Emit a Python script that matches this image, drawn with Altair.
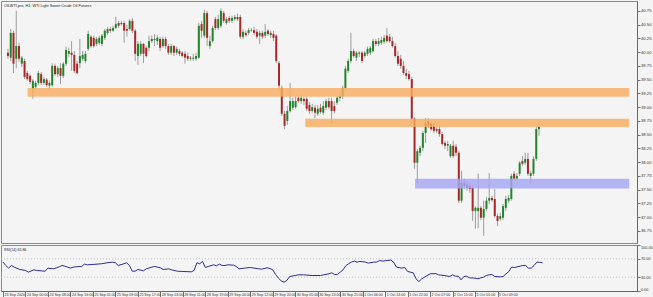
import altair as alt
import pandas as pd

TITLE = "OILWTI.pro, H1:  WTI Light Sweet Crude Oil Futures"
RSI_LABEL = "RSI(14) 65.86"

opens = [39.99, 39.90, 40.35, 39.88, 40.11, 39.79, 39.84, 39.62, 39.57, 39.33,
         39.37, 39.44, 39.60, 39.44, 39.50, 39.39, 39.40, 39.75, 39.60, 39.71,
         39.57, 39.79, 39.97, 39.99, 39.95, 39.79, 39.80, 39.88, 39.84, 40.06,
         40.28, 40.26, 40.15, 40.17, 40.15, 40.26, 40.35, 40.42, 40.39, 40.44,
         40.53, 40.51, 40.53, 40.42, 40.42, 40.57, 40.39, 39.93, 39.97, 40.15,
         40.08, 40.08, 40.20, 40.22, 40.20, 40.24, 40.11, 40.24, 40.11, 39.99,
         40.11, 39.99, 40.02, 39.99, 39.97, 39.93, 39.88, 39.88, 39.88, 39.90,
         40.51, 40.30, 40.71, 40.11, 40.20, 40.60, 40.44, 40.48, 40.71, 40.53,
         40.62, 40.57, 40.60, 40.64, 40.64, 40.28, 40.35, 40.35, 40.39, 40.40,
         40.37, 40.30, 40.35, 40.30, 40.39, 40.31, 40.33, 40.30, 39.80, 39.35,
         38.88, 38.75, 38.93, 38.99, 39.00, 39.17, 39.11, 39.15, 39.15, 39.04,
         38.93, 38.99, 38.88, 38.99, 38.90, 38.99, 39.11, 39.11, 39.02, 39.08,
         39.17, 39.20, 39.35, 39.66, 39.84, 40.02, 39.90, 39.99, 39.99, 39.93,
         39.97, 39.99, 40.02, 40.20, 40.15, 40.17, 40.19, 40.30, 40.28, 40.20,
         40.11, 39.93, 39.88, 39.75, 39.62, 39.60, 39.51, 38.79, 37.99, 38.17,
         38.26, 38.53, 38.75, 38.70, 38.66, 38.60, 38.60, 38.51, 38.35, 38.30,
         38.11, 38.30, 38.28, 38.17, 37.30, 37.62, 37.59, 37.57, 37.53, 37.11,
         37.11, 37.17, 36.99, 37.15, 37.30, 37.35, 37.33, 37.02, 36.97, 36.99,
         37.17, 37.30, 37.33, 37.79, 37.70, 37.79, 38.02, 37.99, 38.06, 37.75,
         37.79, 38.06, 38.60]

closes = [39.93, 40.35, 39.79, 40.11, 39.88, 39.90, 39.55, 39.51, 39.46, 39.48,
          39.44, 39.62, 39.44, 39.51, 39.40, 39.44, 39.75, 39.60, 39.71, 39.57,
          39.79, 40.04, 40.02, 39.95, 39.66, 39.62, 39.93, 39.95, 39.97, 40.33,
          40.11, 40.11, 40.24, 40.26, 40.30, 40.39, 40.42, 40.39, 40.44, 40.51,
          40.48, 40.53, 40.39, 40.39, 40.57, 40.39, 39.97, 40.15, 40.15, 39.97,
          39.93, 40.20, 40.24, 40.24, 40.26, 40.08, 40.24, 40.11, 39.99, 40.11,
          39.99, 40.06, 39.97, 39.93, 39.90, 39.88, 39.90, 39.90, 39.93, 40.48,
          40.39, 40.71, 40.26, 40.20, 40.44, 40.44, 40.60, 40.75, 40.57, 40.60,
          40.57, 40.62, 40.64, 40.60, 40.28, 40.37, 40.31, 40.40, 40.40, 40.35,
          40.28, 40.35, 40.28, 40.37, 40.33, 40.35, 40.26, 39.84, 39.39, 38.88,
          38.66, 38.93, 39.11, 39.11, 39.11, 39.11, 39.17, 39.11, 38.97, 38.93,
          39.00, 38.90, 38.97, 38.91, 39.02, 39.11, 39.00, 38.93, 38.93, 39.17,
          39.20, 39.35, 39.70, 39.84, 40.02, 39.93, 39.99, 39.97, 39.84, 39.99,
          40.06, 40.08, 40.20, 40.15, 40.20, 40.22, 40.26, 40.20, 40.20, 40.11,
          39.93, 39.79, 39.75, 39.62, 39.57, 39.51, 38.79, 37.99, 38.20, 38.26,
          38.53, 38.71, 38.66, 38.60, 38.57, 38.57, 38.51, 38.33, 38.30, 38.33,
          38.30, 38.11, 38.17, 37.30, 37.62, 37.57, 37.53, 37.51, 37.11, 37.17,
          37.17, 36.99, 37.15, 37.30, 37.35, 37.31, 37.02, 36.93, 37.02, 37.20,
          37.33, 37.35, 37.75, 37.70, 37.75, 37.99, 37.97, 38.06, 37.79, 37.80,
          38.06, 38.60, 38.64]

highs = [40.06, 40.42, 40.39, 40.75, 40.17, 39.93, 39.88, 39.66, 39.60, 39.51,
         39.48, 39.66, 39.64, 39.55, 39.53, 39.48, 39.80, 39.79, 39.75, 39.80,
         39.82, 40.10, 40.08, 40.20, 40.02, 39.84, 40.24, 40.02, 40.02, 40.39,
         40.31, 40.30, 40.28, 40.30, 40.33, 40.42, 40.46, 40.46, 40.48, 40.64,
         40.57, 40.57, 40.57, 40.50, 40.60, 40.62, 40.42, 40.20, 40.20, 40.17,
         40.11, 40.30, 40.30, 40.33, 40.31, 40.28, 40.28, 40.28, 40.15, 40.15,
         40.13, 40.10, 40.06, 40.02, 40.02, 39.99, 39.93, 39.97, 39.99, 40.53,
         40.57, 40.77, 40.75, 40.30, 40.48, 40.64, 40.68, 40.80, 40.75, 40.64,
         40.66, 40.66, 40.68, 40.70, 40.68, 40.42, 40.39, 40.44, 40.44, 40.46,
         40.42, 40.39, 40.39, 40.51, 40.42, 40.39, 40.39, 40.33, 39.84, 39.39,
         38.93, 39.02, 39.44, 39.17, 39.19, 39.20, 39.22, 39.19, 39.19, 39.09,
         39.06, 39.04, 39.04, 39.06, 39.11, 39.15, 39.17, 39.17, 39.11, 39.20,
         39.24, 39.39, 39.75, 39.88, 40.35, 40.06, 40.02, 40.02, 40.02, 40.02,
         40.10, 40.11, 40.24, 40.24, 40.26, 40.28, 40.31, 40.44, 40.33, 40.28,
         40.17, 40.02, 39.95, 39.84, 39.70, 39.66, 39.55, 38.82, 38.24, 38.30,
         38.57, 38.80, 38.80, 38.73, 38.70, 38.64, 38.66, 38.55, 38.39, 38.39,
         38.33, 38.39, 38.33, 38.20, 37.84, 37.70, 37.66, 37.62, 37.59, 37.20,
         37.79, 37.20, 37.30, 37.37, 37.80, 37.39, 37.51, 37.06, 37.08, 37.24,
         37.39, 37.40, 37.79, 37.84, 37.80, 38.02, 38.11, 38.17, 38.17, 37.84,
         38.11, 38.64, 38.70]

lows = [39.88, 39.84, 39.62, 39.71, 39.82, 39.73, 39.51, 39.48, 39.42, 39.15,
        39.31, 39.40, 39.40, 39.40, 39.37, 39.31, 39.37, 39.57, 39.55, 39.42,
        39.53, 39.75, 39.91, 39.66, 39.62, 39.59, 39.71, 39.84, 39.80, 40.02,
        40.08, 40.08, 40.11, 40.13, 40.11, 40.22, 40.31, 40.35, 40.37, 40.42,
        40.44, 40.48, 40.17, 40.28, 40.39, 40.35, 39.84, 39.77, 39.93, 39.80,
        39.90, 40.02, 40.17, 40.11, 40.13, 40.02, 40.08, 40.06, 39.95, 39.95,
        39.93, 39.95, 39.93, 39.90, 39.79, 39.84, 39.84, 39.84, 39.84, 39.88,
        40.26, 40.26, 40.11, 40.06, 40.17, 40.40, 40.40, 40.44, 40.53, 40.50,
        40.53, 40.53, 40.57, 40.57, 40.24, 40.24, 40.28, 40.31, 40.37, 40.31,
        40.24, 40.15, 40.24, 40.26, 40.30, 40.26, 40.20, 39.80, 39.31, 38.84,
        38.60, 38.68, 38.90, 38.95, 38.97, 39.08, 39.06, 39.04, 38.93, 38.88,
        38.90, 38.80, 38.84, 38.88, 38.86, 38.95, 38.97, 38.70, 38.88, 39.04,
        39.11, 39.15, 39.31, 39.62, 39.80, 39.90, 39.84, 39.91, 39.80, 39.90,
        39.93, 39.95, 39.99, 40.11, 40.11, 40.13, 40.15, 40.17, 40.17, 40.08,
        39.90, 39.75, 39.70, 39.59, 39.51, 39.48, 38.75, 37.88, 37.62, 38.11,
        38.20, 38.35, 38.62, 38.57, 38.53, 38.53, 38.46, 38.30, 38.24, 38.20,
        38.08, 38.08, 38.11, 37.26, 37.26, 37.51, 37.48, 37.44, 36.93, 36.79,
        36.80, 36.95, 36.66, 37.11, 37.24, 37.28, 36.99, 36.84, 36.93, 36.95,
        37.11, 37.26, 37.30, 37.66, 37.66, 37.75, 37.93, 37.95, 37.75, 37.60,
        37.75, 38.02, 38.48]

rsi_bar = [0, 1, 2, 3, 4, 6, 8, 9, 11, 12,
           15, 16, 18, 19, 20, 21, 22, 24, 25, 27,
           28, 29, 30, 32, 35, 37, 39, 40, 41, 43,
           44, 45, 46, 47, 48, 50, 51, 53, 54, 56,
           57, 59, 60, 62, 64, 67, 68, 69, 70, 71,
           72, 73, 75, 76, 77, 78, 79, 80, 82, 83,
           84, 86, 88, 91, 92, 94, 95, 96, 97, 98,
           99, 100, 101, 102, 104, 105, 107, 110, 113, 114,
           116, 117, 118, 119, 120, 121, 122, 123, 124, 125,
           126, 127, 129, 130, 132, 133, 134, 135, 136, 138,
           139, 140, 142, 143, 144, 146, 147, 148, 149, 150,
           152, 154, 155, 157, 159, 160, 161, 162, 163, 164,
           165, 166, 168, 169, 170, 171, 172, 173, 174, 175,
           177, 178, 179, 180, 181, 182, 184, 185, 186, 187,
           188, 189, 190, 191, 192]
rsi_val = [62.8, 55.5, 49.7, 55.5, 51.9, 46.8, 44.6, 41.0, 46.0, 44.6,
           43.1, 49.7, 48.2, 50.4, 52.6, 55.5, 54.0, 49.7, 51.9, 53.3,
           53.3, 58.4, 56.9, 57.7, 59.2, 61.3, 62.8, 61.3, 55.5, 59.2,
           61.3, 55.5, 43.1, 43.1, 46.8, 43.8, 48.2, 51.9, 53.3, 50.4,
           46.8, 48.2, 46.0, 43.1, 42.4, 41.7, 44.6, 61.3, 59.2, 64.3,
           51.1, 53.3, 56.9, 54.8, 58.4, 55.5, 55.5, 56.9, 56.2, 53.3,
           48.2, 49.7, 51.1, 48.2, 47.5, 50.4, 49.0, 46.0, 36.0, 28.0,
           22.0, 19.1, 22.7, 31.5, 33.7, 35.1, 35.1, 33.7, 33.7, 35.1,
           37.3, 39.5, 35.9, 35.9, 41.0, 46.0, 55.0, 59.2, 62.8, 65.0,
           62.8, 64.3, 62.8, 60.6, 62.8, 62.8, 66.4, 65.0, 65.7, 67.2,
           62.8, 51.9, 49.7, 51.1, 42.4, 39.5, 26.4, 20.6, 26.4, 30.0,
           37.3, 38.0, 35.1, 33.7, 31.5, 35.1, 32.2, 32.2, 24.2, 31.5,
           32.2, 28.6, 27.9, 26.4, 28.5, 30.0, 33.7, 35.1, 35.9, 31.5,
           30.8, 31.5, 37.3, 42.4, 51.9, 51.1, 54.0, 55.5, 55.5, 49.7,
           49.7, 55.5, 62.8, 62.5, 61.3]

rsi_levels = [30, 70]

time_labels = ["23 Sep 2020", "24 Sep 00:00", "24 Sep 08:00", "24 Sep 16:00",
               "25 Sep 01:00", "25 Sep 09:00", "25 Sep 17:00", "28 Sep 03:00",
               "28 Sep 11:00", "28 Sep 19:00", "29 Sep 04:00", "29 Sep 12:00",
               "29 Sep 20:00", "30 Sep 05:00", "30 Sep 13:00", "30 Sep 21:00",
               "1 Oct 06:00", "1 Oct 14:00", "1 Oct 22:00", "2 Oct 07:00",
               "2 Oct 15:00", "5 Oct 01:00", "5 Oct 09:00"]
label_step = 8

price_ticks = [36.75, 37.0, 37.25, 37.5, 37.75, 38.0, 38.25, 38.5, 38.75,
               39.0, 39.25, 39.5, 39.75, 40.0, 40.25, 40.5, 40.75]
rsi_ticks = [0, 30, 70, 100]

zone_start = [7.1, 107.5, 147.2]
zone_end = [224.6, 224.6, 224.6]
zone_lo = [39.19, 38.64, 37.52]
zone_hi = [39.35, 38.79, 37.70]
zone_kind = ["resistance", "resistance", "support"]

# ---------------- build ----------------
n = len(opens)
assert len(closes) == n and len(highs) == n and len(lows) == n
assert len(rsi_bar) == len(rsi_val)

candles = pd.DataFrame({"bar": list(range(n)), "open": opens, "high": highs,
                        "low": lows, "close": closes})
candles["dir"] = ["up" if c >= o else "down" for o, c in zip(opens, closes)]
zones = pd.DataFrame({"start": zone_start, "end": zone_end, "lo": zone_lo,
                      "hi": zone_hi, "kind": zone_kind})
rsi = pd.DataFrame({"bar": rsi_bar, "rsi": rsi_val})
levels = pd.DataFrame({"lvl": rsi_levels})

W = 636
H_MAIN = 242
H_RSI = 46
FONT = "Liberation Sans"

xs = alt.Scale(domain=[-0.71, 225.62], nice=False, zero=False)
ys = alt.Scale(domain=[36.53, 40.93], nice=False, zero=False)
rs = alt.Scale(domain=[0, 100], nice=False, zero=False)

price_axis = alt.Axis(orient="right", values=price_ticks, format=".2f", title=None,
                      labelFontSize=4.2, tickSize=3, labelPadding=0.5, grid=False)

wicks = alt.Chart(candles).mark_rule(color="#9c9c9c", strokeWidth=1).encode(
    x=alt.X("bar:Q", scale=xs, axis=None),
    y=alt.Y("low:Q", scale=ys, axis=price_axis),
    y2="high:Q",
)
bodies = alt.Chart(candles).mark_bar(size=2).encode(
    x=alt.X("bar:Q", scale=xs, axis=None),
    y=alt.Y("open:Q", scale=ys, axis=price_axis),
    y2="close:Q",
    color=alt.Color("dir:N", scale=alt.Scale(domain=["up", "down"],
                                              range=["#22852a", "#a82828"]), legend=None),
)
zone_layer = alt.Chart(zones).mark_rect(opacity=0.82).encode(
    x=alt.X("start:Q", scale=xs, axis=None),
    x2="end:Q",
    y=alt.Y("lo:Q", scale=ys, axis=price_axis),
    y2="hi:Q",
    fill=alt.Fill("kind:N", scale=alt.Scale(domain=["resistance", "support"],
                                             range=["#f8ad62", "#a6a6f4"]), legend=None),
)
title_layer = alt.Chart(pd.DataFrame({"t": [TITLE]})).mark_text(
    align="left", baseline="top", fontSize=3.8, font=FONT, color="#222"
).encode(x=alt.value(3), y=alt.value(3), text="t:N")

main = alt.layer(wicks, bodies, zone_layer, title_layer).properties(width=W, height=H_MAIN)

label_expr = "[" + ",".join("'" + t + "'" for t in time_labels) + "][round(datum.value / %d)]" % label_step
time_axis = alt.Axis(values=list(range(0, label_step * len(time_labels), label_step)),
                     labelExpr=label_expr, labelAlign="left", labelOffset=1,
                     labelFontSize=3.6, tickSize=6, labelPadding=-5, grid=False,
                     title=None, labelOverlap=False)
rsi_axis = alt.Axis(orient="right", values=rsi_ticks, format=".2f", title=None,
                    labelFontSize=3.8, tickSize=3, labelPadding=0.5, labelFlush=True,
                    grid=False)

lvl_layer = alt.Chart(levels).mark_rule(color="#b8b8b8", strokeWidth=0.8,
                                        strokeDash=[1, 2]).encode(
    y=alt.Y("lvl:Q", scale=rs, axis=rsi_axis), x=alt.value(0), x2=alt.value(W))
rsi_line = alt.Chart(rsi).mark_line(color="#2c2c8e", strokeWidth=1).encode(
    x=alt.X("bar:Q", scale=xs, axis=time_axis),
    y=alt.Y("rsi:Q", scale=rs, axis=rsi_axis),
)
rsi_text = alt.Chart(pd.DataFrame({"t": [RSI_LABEL]})).mark_text(
    align="left", baseline="top", fontSize=3.6, font=FONT, color="#222"
).encode(x=alt.value(3), y=alt.value(3), text="t:N")

lower = alt.layer(lvl_layer, rsi_line, rsi_text).properties(width=W, height=H_RSI)

chart = alt.vconcat(main, lower, spacing=0).properties(
    padding={"left": 0, "top": 0, "right": 0, "bottom": 0},
    background="#f4f4f4",
).configure_view(
    stroke="#8a8a8a", strokeWidth=1, fill="#f4f4f4"
).configure_axis(
    labelFont=FONT, labelColor="#333", tickColor="#555", domainColor="#666",
    domainWidth=1, tickWidth=0.8,
)

chart.save("out.html", embed_options={"renderer": "svg", "actions": False})
